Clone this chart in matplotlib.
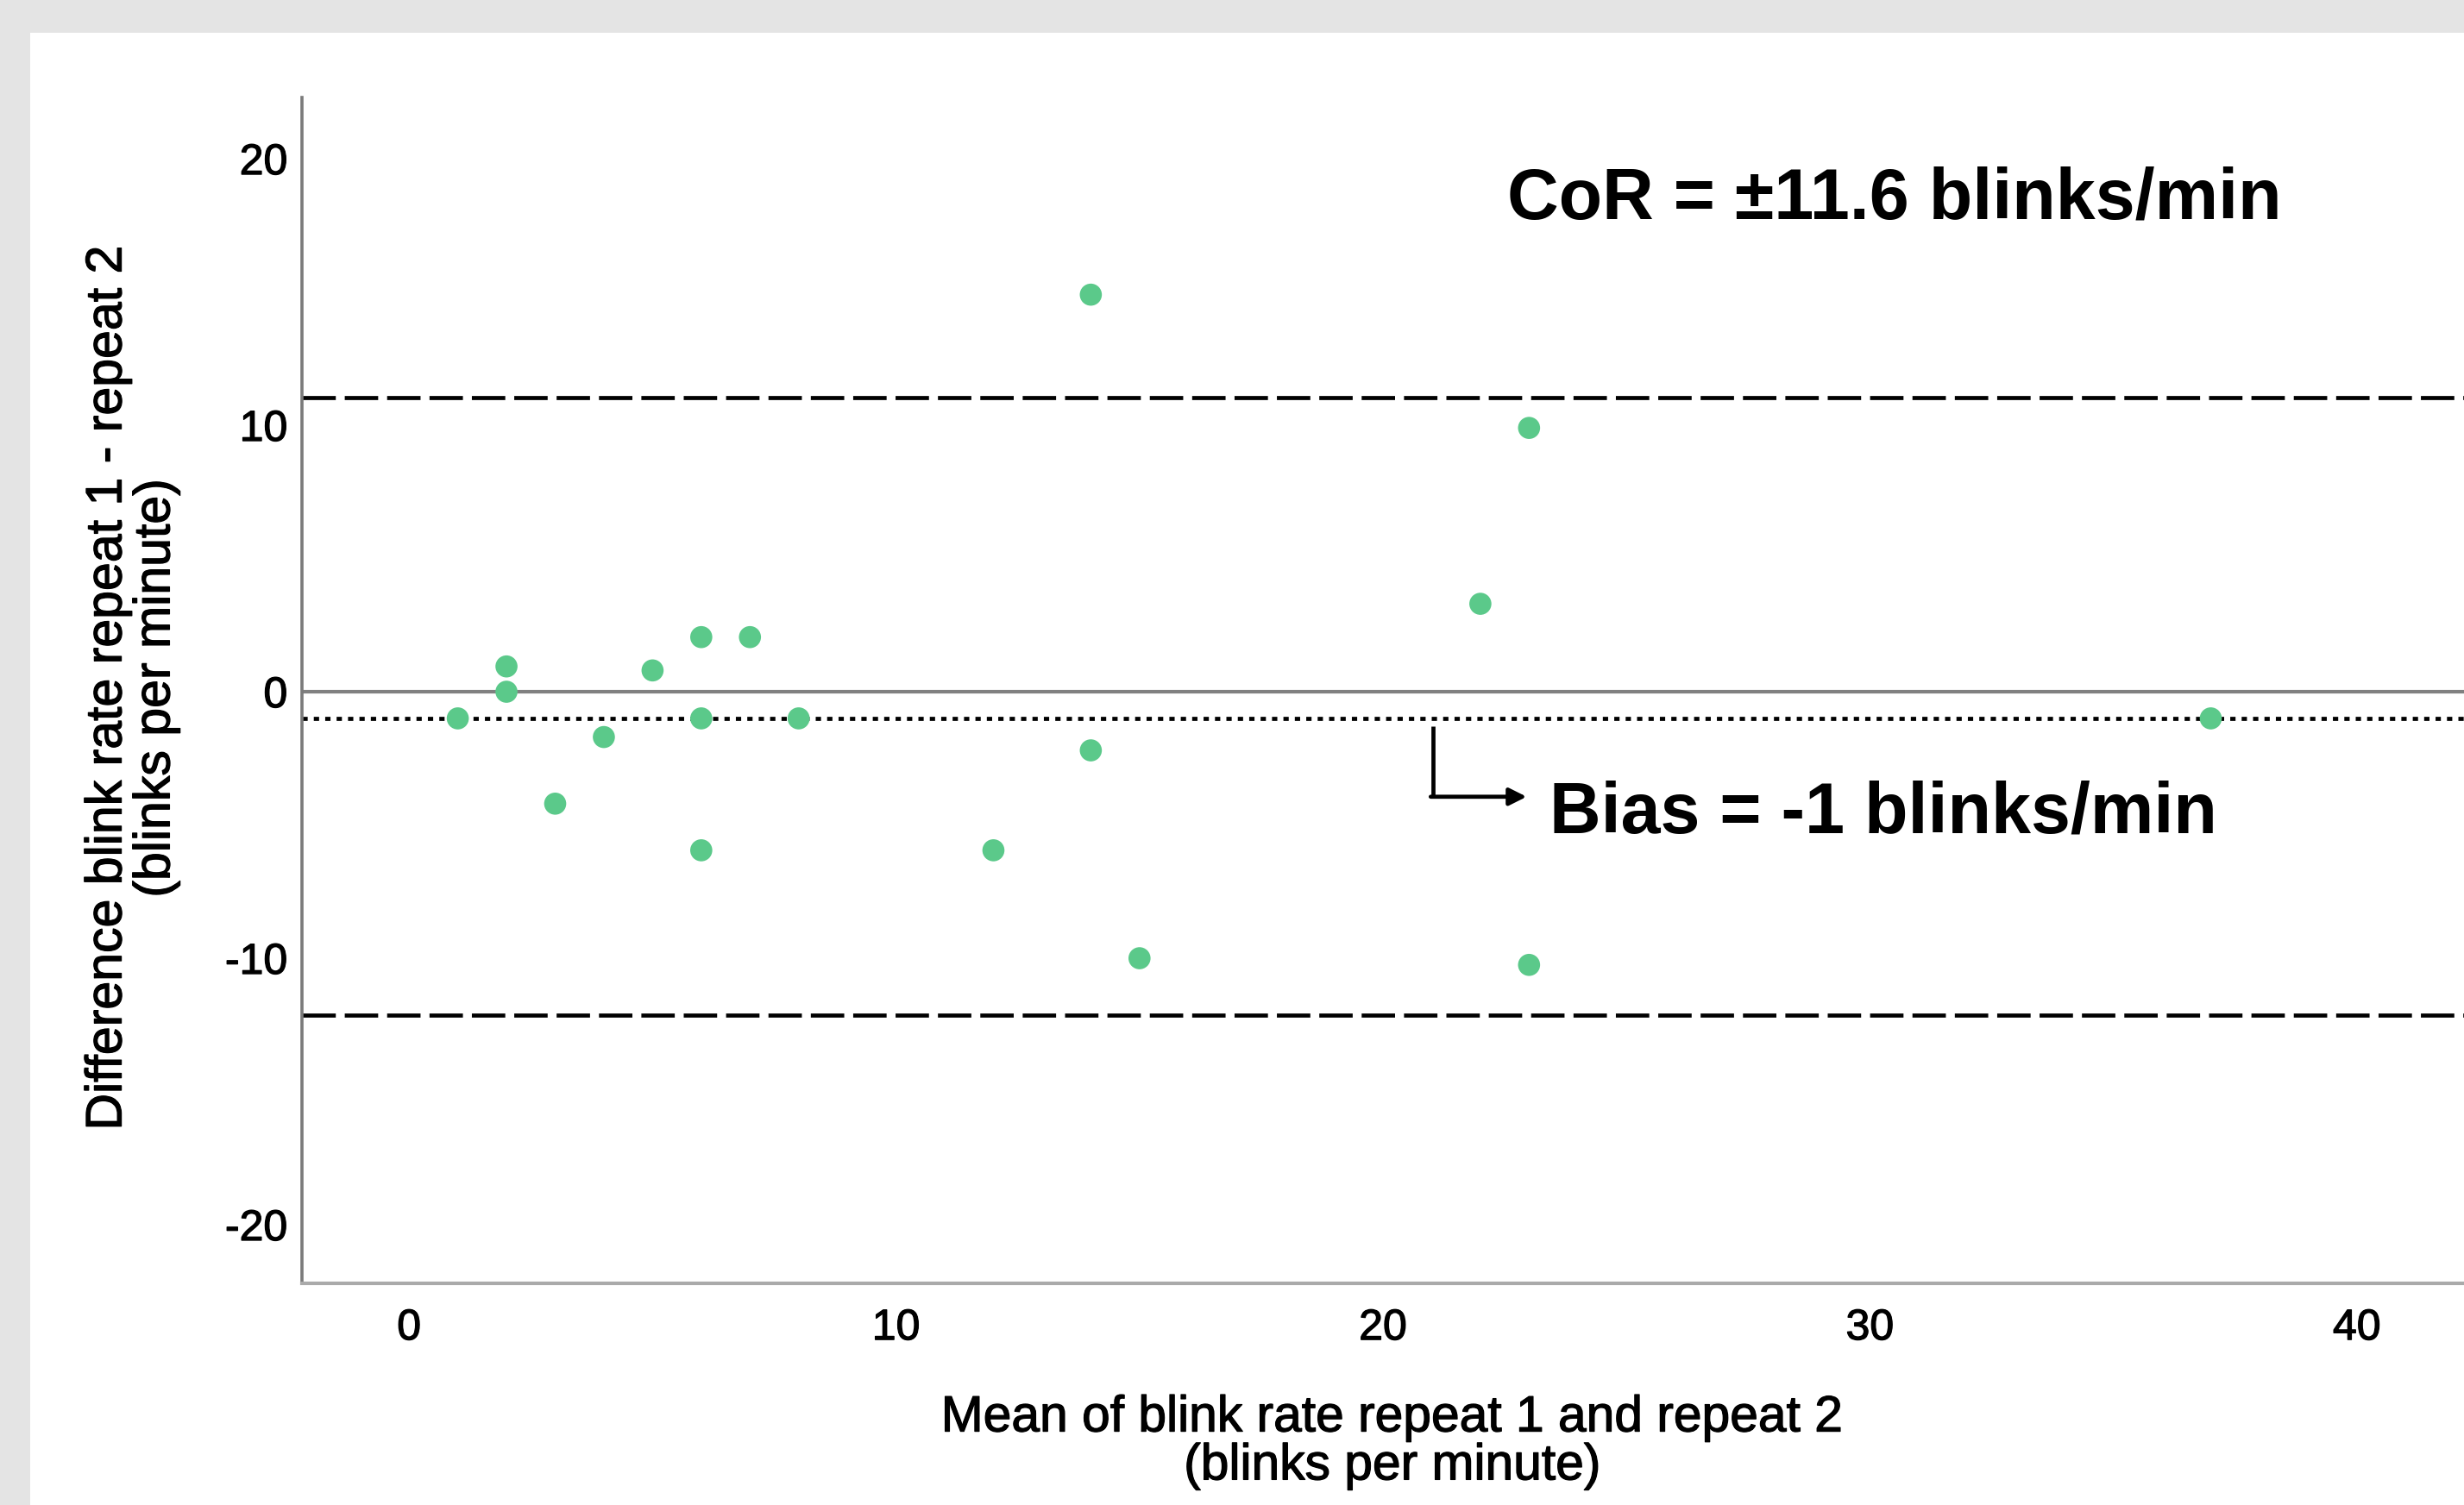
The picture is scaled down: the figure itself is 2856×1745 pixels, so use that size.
import matplotlib
matplotlib.use("Agg")
import matplotlib.pyplot as plt
import matplotlib.patheffects as pe
from matplotlib.patches import Rectangle

plt.rcParams['font.family'] = ['Liberation Sans', 'DejaVu Sans']
plt.rcParams['axes.unicode_minus'] = False

# Bland-Altman data
mean_rate = [1, 2, 2, 3, 4, 5, 6, 6, 6, 7, 8, 12, 14, 14, 15, 22, 23, 23, 37]
diff_rate = [-1, 0.95, 0, -4.2, -1.7, 0.8, 2.05, -1, -5.95, 2.05, -1,
             -5.95, 14.9, -2.2, -10, 3.3, 9.9, -10.25, -1]

bias = -1.0
upper_loa = 11.05
lower_loa = -12.15
x_ticks = [0, 10, 20, 30, 40]
y_ticks = [-20, -10, 0, 10, 20]

W, H = 2856, 1745
fig = plt.figure(figsize=(W / 100, H / 100), dpi=100)
fig.patch.set_facecolor('#e4e4e4')
# white panel inside the grey frame
fig.patches.append(Rectangle((35 / W, 0), 1 - 35 / W, 1 - 38 / H,
                             transform=fig.transFigure, facecolor='white',
                             edgecolor='none', zorder=-10))

ax = fig.add_axes([350 / W, 1 - 1488 / H, 1 - 350 / W, (1488 - 113) / H])
ax.set_facecolor('white')
ax.set_xlim(-2.2, 42.2)
ax.set_ylim(-22.2, 22.3)

for s in ['top', 'right']:
    ax.spines[s].set_visible(False)
ax.spines['left'].set_color('#7a7a7a')
ax.spines['bottom'].set_color('#aaaaaa')
ax.spines['left'].set_linewidth(2.6)
ax.spines['bottom'].set_linewidth(3.0)

# semi-bold look of the SPSS labels
heavy = [pe.withStroke(linewidth=0.9, foreground='black')]

ax.set_xticks(x_ticks)
ax.set_yticks(y_ticks)
ax.tick_params(axis='both', length=0, labelsize=36)
ax.tick_params(axis='x', pad=21)
ax.tick_params(axis='y', pad=12)
for lab in ax.get_xticklabels() + ax.get_yticklabels():
    lab.set_path_effects(heavy)

# reference lines
ax.axhline(0, color='#808080', lw=3.0, zorder=1)
ax.axhline(bias, color='black', lw=3.4, dashes=(1.3, 1.5), zorder=1)
ax.axhline(upper_loa, color='black', lw=3.4, dashes=(8.2, 2.2), zorder=1)
ax.axhline(lower_loa, color='black', lw=3.4, dashes=(8.2, 2.2), zorder=1)

ax.scatter(mean_rate, diff_rate, s=340, color='#5bc98a', edgecolors='none',
           zorder=3)

# annotations
ax.text(22.55, 17.75, 'CoR = \u00b111.6 blinks/min', fontsize=59.5,
        fontweight='bold', ha='left', va='baseline')
ax.plot([21.03, 21.03], [-1.3, -3.94], color='black', lw=3.4,
        solid_capstyle='butt')
ax.annotate('', xy=(22.95, -3.94), xytext=(20.98, -3.94),
            arrowprops=dict(arrowstyle='-|>,head_length=1.2,head_width=0.6',
                            color='black', lw=3.4, shrinkA=0, shrinkB=0))
ax.text(23.42, -5.3, 'Bias = -1 blinks/min', fontsize=59.5,
        fontweight='bold', ha='left', va='baseline')

fig.text(1614 / W, 1 - 1672 / H,
         'Mean of blink rate repeat 1 and repeat 2\n(blinks per minute)',
         fontsize=42.3, ha='center', va='center', linespacing=1.02,
         path_effects=heavy)
fig.text(153 / W, 1 - 798 / H,
         'Difference blink rate repeat 1 - repeat 2\n(blinks per minute)',
         fontsize=42.5, ha='center', va='center', rotation=90,
         linespacing=1.02, path_effects=heavy)

fig.savefig('out.png', dpi=100, facecolor=fig.get_facecolor())
